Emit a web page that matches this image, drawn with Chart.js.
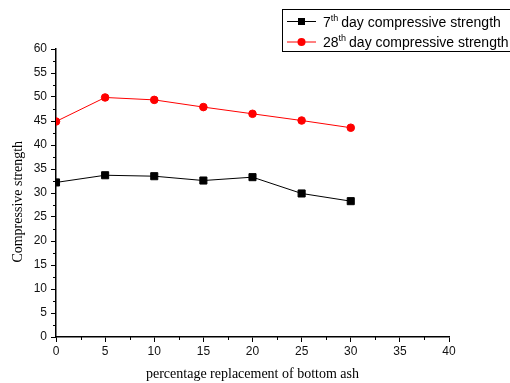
<!DOCTYPE html>
<html>
<head>
<title>compressive strength</title>
<script src="https://cdn.jsdelivr.net/npm/chart.js"></script>
<style>
  body { margin: 0; background: #fff; }
  #wrap { width: 510px; height: 383px; }
</style>
</head>
<body>
<div id="wrap"><canvas id="strengthChart" width="510" height="383"></canvas></div>
<script>
// data
const replacement = [0, 5, 10, 15, 20, 25, 30];
const day7 = [32.2, 33.7, 33.5, 32.6, 33.3, 29.9, 28.3];
const day28 = [44.9, 49.9, 49.4, 47.9, 46.5, 45.1, 43.6];
const legendNames = ['7', '28'];

function toPoints(ys) {
  return replacement.map((x, i) => ({ x: x, y: ys[i] }));
}

// minor ticks (every 2.5) and the boxed legend with superscript "th"
const extras = {
  id: 'extras',
  afterDraw(chart) {
    const ctx = chart.ctx;
    const xs = chart.scales.x, ys = chart.scales.y;
    ctx.save();
    ctx.strokeStyle = '#000';
    ctx.lineWidth = 1;
    for (let v = 2.5; v < 40; v += 5) {
      const px = Math.round(xs.getPixelForValue(v)) + 0.5;
      ctx.beginPath();
      ctx.moveTo(px, ys.bottom);
      ctx.lineTo(px, ys.bottom + 3);
      ctx.stroke();
    }
    for (let v = 2.5; v < 60; v += 5) {
      const py = Math.round(ys.getPixelForValue(v)) + 0.5;
      ctx.beginPath();
      ctx.moveTo(xs.left, py);
      ctx.lineTo(xs.left - 3, py);
      ctx.stroke();
    }

    // legend
    ctx.lineWidth = 1;
    ctx.strokeRect(282.5, 9.5, 240, 42);
    const rows = [21.5, 42];
    chart.data.datasets.forEach((ds, i) => {
      const y = rows[i];
      ctx.strokeStyle = ds.borderColor;
      ctx.beginPath();
      ctx.moveTo(287, y);
      ctx.lineTo(316, y);
      ctx.stroke();
      ctx.fillStyle = ds.pointBackgroundColor;
      if (ds.pointStyle === 'rect') {
        ctx.fillRect(298, y - 3.5, 7, 7);
      } else {
        ctx.beginPath();
        ctx.arc(301.5, y, 4, 0, Math.PI * 2);
        ctx.fill();
      }
      ctx.fillStyle = '#000';
      ctx.textBaseline = 'alphabetic';
      ctx.font = '14px "Liberation Sans", Arial, sans-serif';
      let tx = 323;
      ctx.fillText(legendNames[i], tx, y + 5);
      tx += ctx.measureText(legendNames[i]).width;
      ctx.font = '9px "Liberation Sans", Arial, sans-serif';
      ctx.fillText('th', tx, y - 1);
      tx += ctx.measureText('th').width + 3;
      ctx.font = '14px "Liberation Sans", Arial, sans-serif';
      ctx.fillText('day compressive strength', tx, y + 5);
    });
    ctx.restore();
  }
};

const tickFont = { family: '"Liberation Sans", Arial, sans-serif', size: 12 };
const titleFont = { family: '"Liberation Serif", "Times New Roman", serif', size: 14 };

new Chart(document.getElementById('strengthChart'), {
  type: 'line',
  data: {
    datasets: [
      {
        label: '7th day compressive strength',
        data: toPoints(day7),
        borderColor: '#000',
        backgroundColor: '#000',
        pointBackgroundColor: '#000',
        pointBorderColor: '#000',
        pointStyle: 'rect',
        pointRadius: 5,
        borderWidth: 1,
        tension: 0
      },
      {
        label: '28th day compressive strength',
        data: toPoints(day28),
        borderColor: '#ff0000',
        backgroundColor: '#ff0000',
        pointBackgroundColor: '#ff0000',
        pointBorderColor: '#ff0000',
        pointStyle: 'circle',
        pointRadius: 3.8,
        borderWidth: 1,
        tension: 0
      }
    ]
  },
  options: {
    responsive: false,
    animation: false,
    layout: { padding: { top: 49, right: 61, left: 0, bottom: 0 } },
    plugins: { legend: { display: false }, tooltip: { enabled: false } },
    scales: {
      x: {
        type: 'linear',
        min: 0, max: 40,
        afterFit(scale) { scale.height = 46; },
        ticks: { stepSize: 5, color: '#111', font: tickFont, padding: 2, maxRotation: 0 },
        grid: { drawOnChartArea: false, tickLength: 5, color: '#000' },
        border: { color: '#000', width: 1.5 },
        title: { display: true, text: 'percentage replacement of bottom ash', color: '#000', font: titleFont, padding: { top: 0, bottom: 0 } }
      },
      y: {
        min: 0, max: 60,
        afterFit(scale) { scale.width = 56; },
        ticks: { stepSize: 5, color: '#111', font: tickFont, padding: 4 },
        grid: { drawOnChartArea: false, tickLength: 5, color: '#000' },
        border: { color: '#000', width: 1.5 },
        // trailing spaces nudge the centred title down a little, like the original
        title: { display: true, text: 'Compressive strength     ', color: '#000', font: titleFont, padding: { top: 10, bottom: 0 } }
      }
    }
  },
  plugins: [extras]
});
</script>
</body>
</html>
